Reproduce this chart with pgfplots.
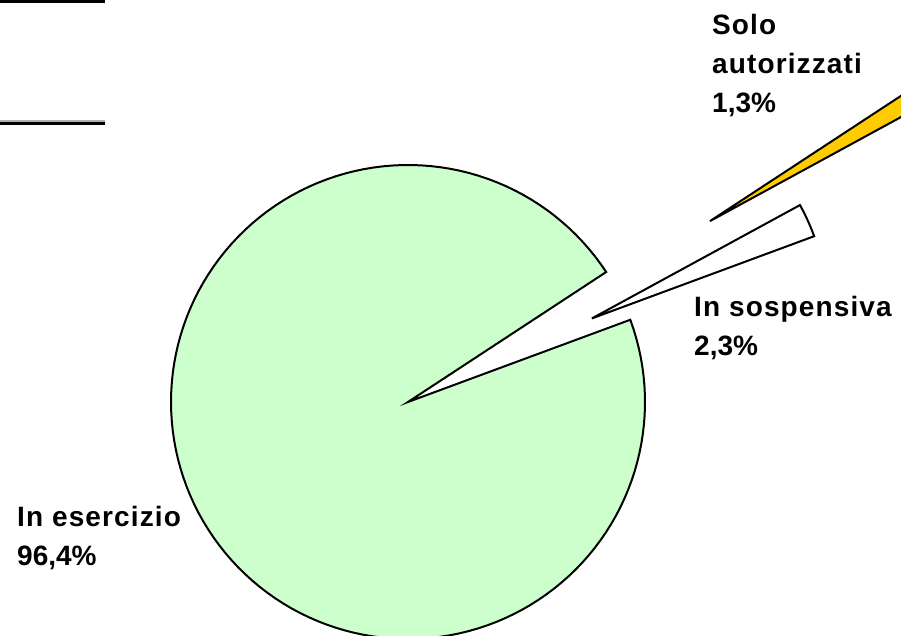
\documentclass[border=0pt]{standalone}
\usepackage{fontspec}
\setmainfont{Liberation Sans}
\newfontfamily\spaced[LetterSpace=4]{Liberation Sans}
\usepackage{pgfplots}
\pgfplotsset{compat=1.18}
\definecolor{esgreen}{RGB}{204,255,204}
\definecolor{soloyellow}{RGB}{255,204,0}
\begin{document}
\begin{tikzpicture}
% shares (percent)
\def\vSosp{2.3}\def\vSolo{1.3}\def\vEs{96.4}
\pgfmathsetmacro{\R}{237}
\pgfmathsetmacro{\cx}{408}
\pgfmathsetmacro{\cy}{-402}
\pgfmathsetmacro{\aA}{20.3}
\pgfmathsetmacro{\aB}{\aA+3.6*\vSosp}
\pgfmathsetmacro{\aC}{\aB+3.6*\vSolo}
\pgfmathsetmacro{\aD}{\aC+3.6*\vEs}
\pgfmathsetmacro{\sx}{\cx+202*cos((\aA+\aB)/2)}
\pgfmathsetmacro{\sy}{\cy+202*sin((\aA+\aB)/2)}
\pgfmathsetmacro{\ox}{\cx+352*cos((\aB+\aC)/2)}
\pgfmathsetmacro{\oy}{\cy+352*sin((\aB+\aC)/2)}
\begin{axis}[scale only axis, width=901pt, height=636pt,
  xmin=0, xmax=901, ymin=-636, ymax=0, hide axis, clip=true]
\addplot[fill=esgreen, draw=black, line width=2pt, domain=\aC:\aD, samples=150, variable=\t]
  ({\cx+\R*cos(\t)}, {\cy+\R*sin(\t)}) -- (axis cs:\cx,\cy) -- cycle;
\addplot[fill=white, draw=black, line width=2pt, domain=\aA:\aB, samples=10, variable=\t]
  ({\sx+\R*cos(\t)}, {\sy+\R*sin(\t)}) -- (axis cs:\sx,\sy) -- cycle;
\addplot[fill=soloyellow, draw=black, line width=2pt, domain=\aB:\aC, samples=10, variable=\t]
  ({\ox+\R*cos(\t)}, {\oy+\R*sin(\t)}) -- (axis cs:\ox,\oy) -- cycle;
\draw[line width=3.5pt] (axis cs:0,-1.5) -- (axis cs:105,-1.5);
\draw[line width=2pt, gray!60] (axis cs:0,-121) -- (axis cs:105,-121);
\draw[line width=3pt] (axis cs:0,-124) -- (axis cs:105,-124);
\tikzset{lab/.style={anchor=base west, inner sep=0pt, font=\bfseries\fontsize{28}{33}\selectfont},
         labw/.style={lab, font=\spaced\bfseries\fontsize{28}{33}\selectfont}}
\node[labw] at (axis cs:712,-35) {Solo};
\node[labw] at (axis cs:712,-74) {autorizzati};
\node[lab] at (axis cs:712,-113) {1,3\%};
\node[labw] at (axis cs:694,-317) {In sospensiva};
\node[lab] at (axis cs:694,-356) {2,3\%};
\node[labw] at (axis cs:17,-527) {In esercizio};
\node[lab] at (axis cs:17,-566) {96,4\%};
\end{axis}
\pgfresetboundingbox
\useasboundingbox (current axis.south west) rectangle (current axis.north east);
\end{tikzpicture}
\end{document}
